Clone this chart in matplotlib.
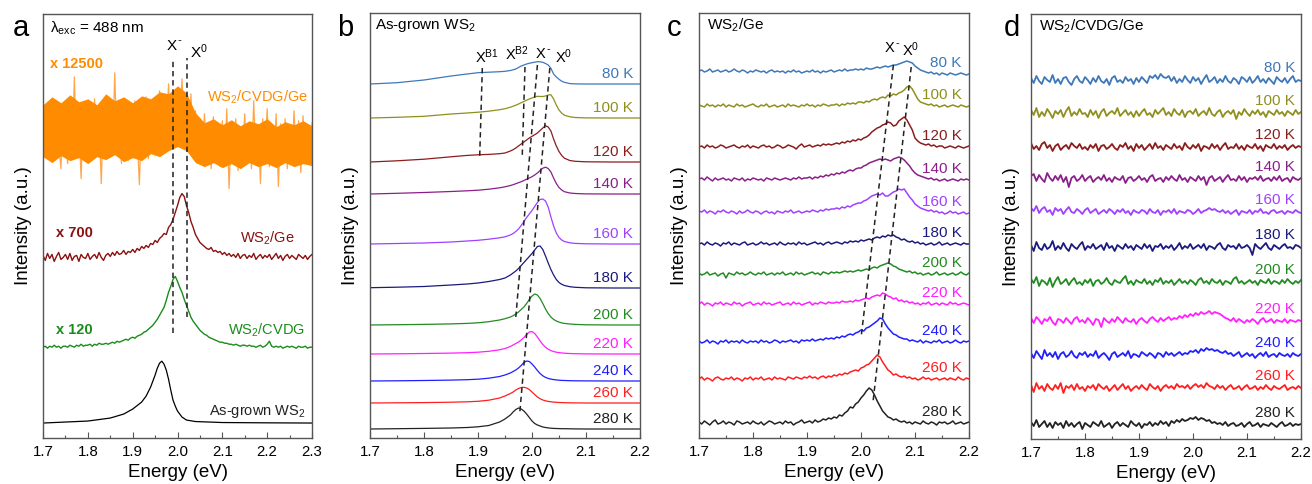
import numpy as np
import matplotlib
matplotlib.use("Agg")
import matplotlib.pyplot as plt
from matplotlib.ticker import MultipleLocator, FormatStrFormatter

plt.rcParams['font.family'] = ['Liberation Sans', 'DejaVu Sans']
plt.rcParams['mathtext.fontset'] = 'custom'
plt.rcParams['mathtext.rm'] = 'Liberation Sans'
plt.rcParams['mathtext.it'] = 'Liberation Sans:italic'
plt.rcParams['mathtext.bf'] = 'Liberation Sans:bold'
plt.rcParams['mathtext.default'] = 'regular'

# ---------------- data ----------------
temps = ['80 K', '100 K', '120 K', '140 K', '160 K', '180 K', '200 K', '220 K', '240 K', '260 K', '280 K']
temp_colors = ['#3f78b8', '#8f8f1f', '#8b1d1d', '#8a1f8a', '#a040ff', '#1a1a7f',
               '#228b22', '#ff1fff', '#1f1fff', '#ff1f1f', '#222222']

# Panel a (x from 1.70 to 2.30, step 0.005)
a_x = np.round(np.arange(1.70, 2.3001, 0.005), 3)
a_orange = [35, -5, 28, 0, 45, -10, 30, 5, -20, 40,
            10, -15, 38, -2, 72, -8, 25, -30, 42, 8,
            -12, 35, 2, 50, -5, 28, -35, 44, 10, -8,
            40, -3, 76, 0, 30, -15, 45, 5, -12, 36,
            -6, 48, 12, -36, 38, 2, 52, -10, 30, 8,
            45, -2, 58, 15, 40, 10, 65, 20, 48, 12,
            60, 18, 70, 22, 50, 5, 55, -5, 38, -10,
            30, -15, 35, -8, 25, -20, 32, -5, 20, -18,
            28, -12, 40, -40, 22, -8, 30, -22, 18, -5,
            35, -15, 25, -20, 48, -10, 22, -35, 30, -6,
            40, -18, 20, -12, 35, -38, 25, -5, 30, -20,
            22, -10, 38, -15, 28, -24, 33, -8, 20, -16, 26]
# dense core of the orange trace (ragged envelope, step 0.02)
a_orange_core_x = np.round(np.arange(1.70, 2.3001, 0.02), 2)
a_orange_core_hi = [44, 52, 46, 54, 47, 50, 44, 55, 48, 52, 46, 53, 50, 57, 55, 63,
                    56, 36, 26, 30, 24, 29, 23, 28, 25, 30, 22, 27, 24, 28, 23]
a_orange_core_lo = [-8, -14, -7, -12, -9, -15, -8, -11, -6, -13, -9, -12, -5, -8, -2, 2,
                    -2, -14, -18, -14, -19, -15, -20, -14, -18, -15, -19, -14, -18, -15, -17]
a_ge = [2, -3, 4, -1, 3, -4, 1, 5, -2, 0,
        3, -2, 4, -3, 1, 2, -4, 3, 0, -1,
        4, -2, 1, 3, -1, 5, 0, -3, 2, 4,
        1, 5, 2, 6, 3, 4, 7, 3, 6, 5,
        8, 5, 9, 7, 11, 9, 12, 10, 14, 13,
        17, 15, 19, 21, 24, 23, 30, 33, 38, 45,
        52, 60, 64, 61, 52, 45, 36, 30, 23, 19,
        15, 13, 11, 9, 8, 10, 6, 7, 5, 6,
        3, 5, 2, 4, 1, 3, 0, 4, -1, 2,
        3, -1, 2, 0, 4, -2, 1, 3, -1, 2,
        0, 3, -2, 1, 4, -1, 2, -3, 1, 3,
        -1, 2, 0, -2, 3, 1, -1, 2, -2, 1, 3]
a_cvdg = [0, 1, -1, 1, 0, 2, 0, 1, -1, 1,
          1, 0, 2, 1, 0, 2, 1, 3, 1, 2,
          2, 3, 1, 3, 2, 4, 3, 3, 4, 3,
          4, 5, 4, 6, 5, 6, 7, 8, 7, 9,
          10, 9, 11, 12, 13, 15, 16, 18, 20, 22,
          25, 28, 32, 36, 40, 47, 55, 61, 68, 71,
          66, 60, 55, 48, 42, 36, 30, 26, 23, 20,
          17, 15, 13, 12, 10, 9, 8, 7, 6, 5,
          5, 4, 4, 3, 3, 2, 3, 2, 1, 2,
          2, 1, 2, 1, 1, 0, 1, 2, 0, 1,
          3, 6, 1, 0, 1, 0, 1, -1, 0, 1,
          0, 1, 0, -1, 1, 0, 0, 1, -1, 0, 0]
a_asg_x = [1.70, 1.75, 1.80, 1.85, 1.88, 1.90, 1.92, 1.93, 1.94, 1.95, 1.955, 1.96, 1.965,
           1.97, 1.975, 1.98, 1.985, 1.99, 1.995, 2.00, 2.01, 2.02, 2.04, 2.10, 2.20, 2.30]
a_asg = [0, 1, 2, 5, 9, 14, 21, 27, 36, 48, 55, 60, 62,
         59, 53, 44, 33, 23, 17, 12, 6, 3, 1.5, 0.5, 0.2, 0]

# Panel b (smooth spectra on a shared energy grid)
b_x = [1.70, 1.75, 1.80, 1.85, 1.88, 1.90, 1.92, 1.94, 1.95, 1.96, 1.965, 1.97, 1.975,
       1.98, 1.985, 1.99, 1.995, 2.00, 2.005, 2.01, 2.015, 2.02, 2.025, 2.03, 2.035,
       2.04, 2.045, 2.05, 2.055, 2.06, 2.07, 2.08, 2.10, 2.15, 2.20]
b_80 = [0, 1.3, 4, 8, 10, 11.3, 11.8, 12.3, 12.7, 13.5, 14.2, 15, 16.5,
        18, 19, 20, 20.7, 21.3, 21.8, 22.3, 22.2, 21.7, 20.5, 19, 15.7,
        10, 7, 4.7, 2.8, 1.7, 0.4, 0.1, 0, 0, 0]
b_100 = [0, 0.7, 1.7, 4, 5, 5.8, 6.8, 8.3, 9.3, 10.8, 11.8, 12.8, 14,
         15.3, 16.5, 17.8, 19, 20, 21, 21.7, 21.5, 21.5, 22, 23, 23.3,
         19, 13, 8, 4.8, 2.8, 1.2, 0.5, 0.1, 0, 0]
b_120 = [0, 1.2, 2.8, 5.2, 6.6, 7.2, 7.6, 8.3, 9, 11, 12.3, 14, 16,
         18, 20, 22, 24, 25.7, 27.3, 29, 31.5, 34, 36.3, 35, 31,
         23, 16, 10.5, 6.5, 3.8, 1.5, 0.7, 0.2, 0, 0]
b_140 = [0, 0.7, 1.5, 2.5, 3.2, 3.8, 4.8, 6.2, 7.2, 8.5, 9.3, 10.3, 11.3,
         12.3, 13.5, 14.8, 16, 17.3, 19, 21, 23.5, 25.8, 26.8, 25.5, 22,
         16, 10.5, 6.5, 4, 2.3, 1, 0.5, 0.1, 0, 0]
b_160 = [0, 0.5, 1, 2, 3, 3.7, 4.8, 6.2, 7.2, 9, 10.5, 12.5, 15,
         18.5, 22.5, 26.5, 30, 33.5, 37.5, 41.5, 44.5, 45, 43, 37, 27,
         18, 11, 6.5, 4, 2.5, 1.2, 0.6, 0.2, 0, 0]
b_180 = [0.3, 0.8, 1.5, 3, 4, 5, 6.5, 8.5, 10, 13, 15, 17, 19.5,
         22.5, 25.5, 28.5, 31.5, 34.5, 38, 41.5, 42, 38.5, 32, 25, 18.5,
         13, 8.5, 5.5, 3.7, 2.5, 1.3, 0.7, 0.2, 0, 0]
b_200 = [0, 0.3, 0.6, 1.1, 1.6, 2.2, 3.3, 5, 6.3, 8, 9.3, 11, 13,
         15.5, 18, 21.5, 25.5, 29, 31, 30, 26.5, 21.5, 16, 11.5, 8,
         5.6, 4, 2.9, 2.1, 1.6, 1, 0.6, 0.2, 0, 0]
b_220 = [0, 0.2, 0.5, 0.9, 1.3, 1.8, 2.7, 4.2, 5.5, 7.5, 9, 10.5, 12,
         14, 16.5, 19.5, 22, 22.5, 20.5, 17, 13, 9.5, 6.8, 4.8, 3.4,
         2.5, 1.8, 1.4, 1.0, 0.8, 0.5, 0.3, 0.1, 0, 0]
b_240 = [0, 0.2, 0.5, 0.9, 1.3, 1.8, 2.8, 4.5, 6, 8, 9.5, 11, 13,
         15.5, 18.5, 20, 19.5, 17, 14, 10.5, 7.5, 5.2, 3.6, 2.6, 1.9,
         1.4, 1.1, 0.8, 0.6, 0.5, 0.3, 0.2, 0.1, 0, 0]
b_260 = [0, 0.2, 0.4, 0.8, 1.2, 1.7, 2.8, 5, 7, 9.5, 11, 13, 14.5,
         15.5, 15.7, 15, 13.5, 11, 8.5, 6, 4.3, 3, 2.2, 1.6, 1.2,
         0.9, 0.7, 0.5, 0.4, 0.3, 0.2, 0.1, 0, 0, 0]
b_280 = [0, 0.3, 0.6, 1, 1.5, 2.2, 3.5, 7, 10, 14, 17, 19.5, 21,
         20, 18, 15, 11.5, 8, 5.5, 4, 3, 2, 1.5, 1.1, 0.8,
         0.6, 0.5, 0.4, 0.3, 0.3, 0.2, 0.1, 0, 0, 0]
b_series = [b_80, b_100, b_120, b_140, b_160, b_180, b_200, b_220, b_240, b_260, b_280]

# Panel c and d (x from 1.70 to 2.20, step 0.005)
cd_x = np.round(np.arange(1.70, 2.2001, 0.005), 3)
c_80 = [3, 4, 2, 3, 5, 2, 3, 4, 2, 3, 4, 2, 3, 5, 3, 2, 4, 3, 1, 3,
        2, 4, 3, 2, 3, 1, 3, 4, 2, 3, 2, 3, 1, 3, 2, 4, 2, 3, 1, 2,
        3, 2, 4, 2, 3, 1, 3, 2, 3, 4, 2, 3, 4, 3, 5, 3, 4, 4, 5, 4,
        5, 4, 6, 5, 5, 6, 7, 6, 7, 8, 7, 8, 9, 9, 10, 11, 12, 13, 12, 11,
        8, 6, 4, 3, 2, 1, 2, 0, 1, -1, 1, 0, -1, 1, 0, -1, 0, 1, 0, -1, 0]
c_100 = [1, 0, -1, 2, 0, 1, -1, 1, 0, 2, -1, 1, 0, -1, 2, 0, 1, -1, 0, 1,
         2, 0, -1, 1, 0, 2, -1, 0, 1, -1, 0, 1, -1, 2, 0, 1, 0, -1, 1, 0,
         2, 0, 1, -1, 1, 0, 2, 1, 0, 1, 1, 2, 0, 2, 1, 3, 2, 3, 2, 4,
         4, 3, 5, 4, 6, 7, 6, 8, 9, 8, 11, 10, 12, 11, 13, 14, 16, 19, 20, 17,
         12, 7, 4, 3, 2, 1, 2, 0, 1, -1, 0, 1, -1, 0, 1, 0, -1, 1, 0, -1, 0]
c_120 = [0, 1, -1, 2, 0, 1, -1, 0, 2, 1, -1, 0, 1, 2, 0, -1, 1, 0, 2, -1,
         1, 0, -1, 1, 2, 0, 1, -1, 0, 2, 1, -1, 0, 2, 1, 0, -2, 1, 3, 0,
         1, 2, 0, 1, 2, 1, 3, 2, 3, 2, 3, 4, 3, 5, 4, 6, 5, 7, 6, 8,
         7, 9, 10, 12, 15, 17, 19, 20, 22, 23, 25, 24, 21, 22, 26, 28, 30, 27, 22, 17,
         9, 6, 4, 3, 2, 3, 1, 2, 0, 1, 1, -1, 0, 1, 0, -1, 1, 0, -1, 0, 1]
c_140 = [1, 2, 0, 3, 1, -1, 2, 0, 1, 2, 0, 1, -1, 2, 1, 0, 2, -1, 1, 0,
         2, 1, 0, 1, -1, 2, 1, 0, 2, 1, 0, 1, 2, 1, 0, 2, 1, 3, 1, 2,
         2, 3, 1, 3, 2, 4, 3, 5, 4, 6, 5, 7, 6, 8, 7, 9, 10, 9, 11, 12,
         12, 14, 15, 17, 18, 19, 20, 21, 20, 21, 20, 19, 21, 22, 23, 22, 20, 17, 14, 10,
         7, 5, 4, 3, 2, 1, 2, 0, 1, -1, 0, 1, -1, 0, 1, 0, -1, 1, 0, 1, 0]
c_160 = [2, 1, 3, 0, 2, 1, -1, 2, 1, 3, 1, 0, 2, 1, -1, 2, 0, 1, 3, 1,
         0, 2, 1, -1, 1, 2, 0, 1, -1, 2, 1, 0, 2, 1, 3, 0, 1, 2, 0, 1,
         2, 1, 3, 2, 1, 3, 2, 4, 3, 4, 4, 5, 4, 6, 5, 7, 6, 8, 9, 10,
         10, 12, 13, 15, 17, 18, 19, 18, 20, 17, 17, 19, 21, 22, 24, 23, 24, 20, 16, 13,
         9, 7, 5, 4, 3, 2, 3, 1, 2, 0, 1, -1, 0, 2, 0, 1, -1, 0, 1, -1, 0]
c_180 = [0, 1, -1, 2, 0, -1, 1, 0, -2, 1, 0, 2, -1, 1, 0, -1, 1, 2, -1, 0,
         1, -1, 0, 2, 0, 1, -1, 0, 1, -1, 2, 0, -1, 1, 0, 1, -1, 2, 0, 1,
         -1, 0, 1, 2, 0, 1, -1, 1, 2, 0, 1, 2, 1, 0, 2, 1, 3, 2, 3, 2,
         4, 3, 4, 5, 4, 6, 7, 6, 8, 7, 9, 8, 9, 7, 6, 4, 5, 3, 2, 3,
         1, 2, 0, 1, -1, 0, 1, -1, 0, 2, -1, 0, 1, -1, 0, 1, 0, -1, 1, 0, 0]
c_200 = [1, -1, 0, 2, -1, 0, 1, -2, 0, 1, -4, 1, 0, -1, 2, 0, 1, -1, 0, 2,
         0, -1, 1, 0, 2, -1, 0, 1, -1, 1, 0, 2, -1, 0, 1, -1, 2, 0, 1, -1,
         0, 1, 2, 0, 1, -1, 2, 1, 0, 2, 1, 2, 1, 2, 3, 2, 3, 2, 3, 4,
         3, 4, 5, 4, 6, 7, 6, 8, 9, 10, 11, 10, 8, 7, 5, 4, 3, 2, 3, 1,
         2, 0, 1, -1, 0, 1, -1, 0, 2, -1, 0, 1, -1, 0, 1, -1, 0, 2, 0, -1, 1]
c_220 = [0, 2, -1, 1, 0, -2, 1, 0, 2, -1, 1, 0, -1, 2, 0, 1, -2, 0, 1, 2,
         -1, 0, 1, -1, 2, 0, 1, -1, 0, 1, 2, -1, 0, 1, -1, 2, 0, 1, -1, 0,
         1, 2, -1, 1, 0, 2, 1, 0, 2, 1, 1, 2, 1, 3, 2, 2, 3, 2, 4, 3,
         4, 5, 6, 5, 7, 8, 9, 8, 11, 10, 8, 7, 5, 6, 3, 4, 2, 3, 1, 2,
         0, 1, -1, 1, 0, 2, -1, 0, 1, -1, 1, 0, -1, 2, 0, 1, -1, 0, 1, 0, -1]
c_240 = [1, -1, 0, 2, -1, 1, 0, -2, 1, 0, 2, -1, 1, 0, 1, -1, 2, 0, -1, 1,
         0, 1, -1, 2, 0, 1, -1, 0, 2, 1, -1, 1, 0, 1, 2, 0, 1, -1, 2, 1,
         2, 1, 3, 1, 2, 3, 2, 4, 3, 4, 3, 5, 4, 6, 5, 7, 8, 7, 9, 10,
         12, 11, 14, 15, 17, 19, 21, 24, 23, 18, 14, 11, 8, 7, 5, 4, 3, 3, 1, 2,
         1, 0, 2, -1, 1, 0, -1, 1, 0, 2, -1, 0, 1, -1, 0, 2, 0, -1, 1, 0, 1]
c_260 = [0, 2, -1, 1, 0, -2, 1, 2, 0, -1, 1, 0, 2, -1, 1, 0, -2, 1, 0, 2,
         -1, 1, 0, 2, -1, 0, 1, -1, 2, 0, 1, 0, -1, 2, 1, 0, 2, 1, 0, 2,
         1, 3, 1, 2, 0, 2, 3, 1, 3, 2, 4, 3, 5, 4, 6, 5, 7, 8, 9, 8,
         11, 12, 14, 15, 18, 21, 24, 22, 17, 13, 9, 7, 4, 5, 3, 2, 3, 1, 2, 0,
         1, -1, 0, 2, 0, 1, -1, 0, 1, -1, 0, 1, -1, 1, 0, -1, 2, 0, -1, 1, 0]
c_280 = [1, -1, 2, 0, -2, 1, 3, -1, 0, 2, -1, 1, 0, -2, 2, 1, -1, 0, 1, -1,
         2, 0, -1, 1, -2, 0, 2, 1, -1, 0, 1, -1, 2, 0, 1, -2, 0, 1, 3, 0,
         1, 2, 0, 3, 1, 2, 4, 3, 5, 4, 6, 5, 8, 7, 10, 12, 16, 15, 19, 21,
         25, 28, 32, 35, 33, 28, 22, 17, 12, 9, 6, 5, 3, 4, 2, 1, 2, 0, 1, -1,
         1, 0, -1, 2, 0, -1, 1, 0, -2, 1, 0, 1, -1, 0, 2, -1, 0, 1, -1, 0, 1]
c_series = [c_80, c_100, c_120, c_140, c_160, c_180, c_200, c_220, c_240, c_260, c_280]

d_80 = [2, -3, 4, -1, -4, 3, 0, -2, 5, -3, 1, -4, 2, 3, -2, -5, 1, 4, -1, -3,
        3, 0, -4, 2, -2, 4, -1, -3, 1, -5, 2, 4, -2, 0, -3, 3, -1, 1, -4, 2,
        -2, 3, 0, -3, 4, 2, 5, 1, 6, 3, 2, 4, -1, 3, -3, 1, -2, 4, 0, -3,
        3, -1, 2, -4, 1, 5, -2, 0, 3, -3, 1, -2, 4, -1, -3, 2, 0, -4, 3, 1,
        -2, 3, -3, 0, 4, -2, 1, -3, 2, -1, -4, 3, 0, -2, 2, -3, 1, 4, -2, 0, -1]
d_100 = [3, -2, 5, -4, 1, -3, 4, 0, -5, 2, -1, 3, -4, 2, 6, -3, 1, -2, 4, -1,
         0, -4, 3, -2, 2, -5, 1, 4, -3, 0, 2, -1, 5, -3, 0, 3, -2, 1, -4, 2,
         -3, 1, 4, -2, 0, -4, 3, -1, 2, 5, -2, 1, -3, 4, 0, -2, 3, -4, 1, 2,
         -1, 4, -3, 0, 2, -2, 5, -1, -3, 1, 3, -4, 0, 2, -1, 3, -6, 1, -2, 4,
         0, -3, 2, -1, 3, -2, 1, -4, 2, 0, -2, 3, -1, 1, -3, 2, 0, -2, 3, -1, 1]
d_120 = [4, -2, 1, -3, 3, 5, -1, 2, -4, 1, 3, -3, 0, 2, -2, 4, 1, -1, 3, -2,
         0, -3, 2, -1, 3, -4, 1, 2, -2, 0, 3, -1, -3, 2, 0, 4, -2, 1, -4, 3,
         -1, 2, -3, 0, 3, -2, 4, -1, 1, -3, 2, 0, -2, 3, -1, 1, -3, 4, 0, -2,
         2, -1, 3, -4, 1, 0, -2, 3, -1, 2, -3, 1, 4, -2, 0, -1, 3, -2, 1, -3,
         2, 0, -1, 3, -2, 1, -4, 2, 0, -1, 3, -2, 1, -1, 2, -3, 0, 2, -1, 1, 0]
d_140 = [3, 5, -2, 4, 0, -3, 6, 1, -2, 3, -1, 4, -3, 2, -8, 1, 3, -2, 0, 4,
         -2, 1, 3, -3, 0, 2, -1, 4, -2, 1, -3, 2, 0, -1, 3, -4, 1, 2, -2, 0,
         3, -1, 1, -3, 2, 4, -2, 0, 1, -3, 2, -1, 3, 0, -2, 4, -1, 1, -3, 2,
         0, -2, 3, -1, 2, -6, 1, 3, -2, 0, 2, -3, 1, 4, -1, 0, -2, 3, -1, 2,
         -3, 1, 0, 2, -1, 3, -2, 0, 1, -2, 2, -1, 3, -2, 0, 1, -3, 2, 0, -1, 1]
d_160 = [4, 1, 6, -1, 3, 5, 0, 2, -3, 4, 1, 3, -2, 2, 5, 0, -1, 3, 1, -2,
         2, 4, -1, 1, 3, -2, 0, 2, -1, 3, 1, -2, 2, 0, 3, -1, 1, -3, 2, 0,
         -1, 2, 1, -2, 3, 0, -1, 2, -3, 1, 0, 2, -1, 3, -2, 1, 0, -1, 2, 1,
         -2, 0, 3, -1, 1, 2, 4, 2, 3, 1, 0, 2, -1, 1, -2, 0, 2, -3, 1, 0,
         -1, 2, -2, 1, 0, 3, -1, 0, -2, 1, 2, -1, 0, 1, -2, 1, 0, -1, 2, 0, -1]
d_180 = [2, -4, 5, -1, -3, 3, -2, 0, 6, -3, 1, -2, 4, -1, -4, 3, 0, -2, 2, 5,
         -3, 1, -1, 3, -2, 0, 2, -3, 4, -1, 1, -4, 2, 0, -2, 3, -1, 1, -3, 2,
         0, -2, 3, -1, 2, -4, 1, 0, 3, -2, 1, -1, 2, -3, 0, 4, -2, 1, -1, 3,
         -2, 0, 2, -1, 3, -3, 1, 0, -2, 2, 4, -1, -3, 2, 0, 1, -2, 3, -1, 0,
         2, -1, -8, 3, 0, -2, 1, 4, -1, -3, 2, 0, -2, 1, 3, -1, 0, -2, 2, 1, -1]
d_200 = [3, -1, 5, -4, 2, 0, -3, 4, -5, 1, 5, -2, 0, 3, -3, 1, 4, -2, 0, -3,
         2, -1, 3, -4, 1, 2, -2, 0, 4, -1, -3, 2, 0, -1, 3, 6, -2, 1, -3, 2,
         0, -1, 3, -2, 1, -3, 2, 0, 4, -2, 1, -1, 2, -3, 0, 3, -1, 1, -2, 2,
         0, -3, 2, 4, -1, 1, -2, 3, 0, -1, 2, -3, 1, 0, -2, 3, 5, -1, 1, -2,
         0, 2, -1, 1, -3, 2, 0, -1, 3, -2, 1, 0, -2, 2, -1, 3, 0, -2, 1, -1, 2]
d_220 = [3, -2, 4, 1, -3, 2, 0, 4, -1, -4, 2, 1, -2, 3, 0, -3, 2, 4, -1, 1,
         -2, 3, 0, -4, 2, 1, -6, 3, 0, -2, 2, -1, 4, 1, -2, 3, 0, -1, 2, -3,
         1, 3, 0, -2, 2, 4, 1, -1, 3, 0, 2, 4, 1, 3, 2, 5, 3, 6, 4, 7,
         5, 8, 6, 9, 7, 8, 10, 7, 9, 8, 7, 5, 3, 2, 0, 3, -1, 2, 0, -2,
         1, -1, 2, 0, -3, 1, 3, -1, 0, 2, -2, 1, 0, -1, 2, -2, 1, 0, -1, 1, 0]
d_240 = [2, -3, 4, 0, -4, 5, -1, 2, -2, 3, -4, 1, 3, -2, 0, 4, -1, -3, 2, 0,
         3, -2, 1, -1, 4, -3, 0, 2, -1, -5, 1, 3, -2, 0, 2, -1, 4, -3, 1, 0,
         -2, 3, 1, -1, 2, 0, -3, 2, 1, -2, 3, 0, 2, -1, 1, 3, 0, 2, 1, 4,
         3, 5, 2, 6, 4, 7, 5, 6, 4, 5, 3, 2, 4, 1, 2, -1, 1, 3, -2, 0,
         2, -1, 1, -3, 0, 2, -1, 3, -2, 0, 1, -2, 2, 0, -1, 1, -2, 2, 0, -1, 1]
d_260 = [3, -4, 5, -1, 2, -3, 4, 0, -2, 3, -1, 5, -5, 2, 0, 3, -2, 4, -1, 1,
         -3, 2, 0, 3, -2, 4, 1, -1, 2, -3, 0, 3, -2, 1, 4, -1, 2, -3, 0, 2,
         -1, 3, 0, -2, 4, 1, -1, 2, -3, 1, 3, 0, 2, -1, 4, 1, 2, 0, 3, -1,
         2, 4, 1, 3, 0, 5, 2, 1, -1, 3, 0, 2, -2, 1, 3, -1, 0, 2, -2, 1,
         3, -1, 0, 2, -2, 1, -1, 3, 0, -2, 2, 0, -1, 1, 3, -2, 0, 1, -1, 2, 0]
d_280 = [3, -1, 5, -2, 1, 4, -2, 2, -3, 3, 0, 2, -3, 4, -1, 2, -2, 1, 3, -4,
         2, 0, -2, 3, 1, -1, 4, -2, 0, 2, -3, 1, 3, -1, 2, 0, -2, 4, 1, -1,
         2, -3, 1, 0, 3, -1, 2, 0, 4, 1, 3, -1, 4, 2, 5, 3, 6, 4, 5, 7,
         6, 8, 5, 7, 6, 4, 5, 2, 3, 1, 2, 0, 3, -1, 1, 2, -1, 0, 2, -2,
         1, 3, -1, 0, 2, -2, 1, 0, -1, 2, 0, -2, 1, 3, -1, 0, 2, -1, 1, 0, 1]
d_series = [d_80, d_100, d_120, d_140, d_160, d_180, d_200, d_220, d_240, d_260, d_280]

# ---------------- layout / styles ----------------
a_offsets = {'asg': 15, 'cvdg': 91, 'ge': 181, 'orange': 290}
b_offsets = [354, 320, 276, 244, 194, 150, 113, 84, 57, 35, 9]
c_offsets = [364, 332, 291, 258, 225, 194, 164, 134, 96, 59, 15]
d_offsets = [359, 326, 292, 260, 227, 192, 157, 118, 84, 51, 14]

fig = plt.figure(figsize=(13.12, 4.84), dpi=100)
W, H = 1312, 484
def add_axes(left, right, top=13, bottom=438):
    return fig.add_axes([left / W, (H - bottom) / H, (right - left) / W, (bottom - top) / H])

axa = add_axes(43, 312, 14, 438)
axb = add_axes(370, 640)
axc = add_axes(699, 969)
axd = add_axes(1031, 1301, 14, 439)

spine_col = '#555555'
for ax, xmax in [(axa, 2.3), (axb, 2.2), (axc, 2.2), (axd, 2.2)]:
    ax.set_xlim(1.7, xmax)
    ax.set_ylim(0, 425)
    ax.set_yticks([])
    ax.xaxis.set_major_locator(MultipleLocator(0.1))
    ax.xaxis.set_minor_locator(MultipleLocator(0.05))
    ax.tick_params(axis='x', which='major', direction='in', length=4, width=0.8,
                   labelsize=10.8, pad=5, color=spine_col)
    ax.tick_params(axis='x', which='minor', direction='in', length=2.5, width=0.8, color=spine_col)
    ax.xaxis.set_major_formatter(FormatStrFormatter('%.1f'))
    for s in ax.spines.values():
        s.set_color(spine_col)
        s.set_linewidth(1.0)
    ax.set_xlabel('Energy (eV)', fontsize=13.5)
    ax.xaxis.set_label_coords(0.5, -0.062)
    ax.set_ylabel('Intensity (a.u.)', fontsize=13.5)
    ax.yaxis.set_label_coords(-0.04, 0.5)

dash = dict(ls=(0, (3.5, 2.5)), color='#222222', lw=1.1)

def xminus(ax, x, y, fs):
    ax.text(x, y, 'X', ha='center', va='center', fontsize=fs, zorder=5)
    ax.annotate('-', xy=(x, y), xytext=(fs * 0.55, fs * 0.35), textcoords='offset points',
                ha='center', va='center', fontsize=fs * 0.75, zorder=5)

# ---- panel a ----
axa.plot(a_asg_x, np.array(a_asg) + a_offsets['asg'], color='black', lw=0.9)
axa.plot(a_x, np.array(a_cvdg) + a_offsets['cvdg'], color='#1a8c1a', lw=1.0)
axa.plot(a_x, np.array(a_ge) + a_offsets['ge'], color='#8b1010', lw=1.0)
axa.plot(a_x, np.array(a_orange) + a_offsets['orange'], color='#ffa64d', lw=0.9, zorder=2)
axa.fill_between(a_orange_core_x, np.array(a_orange_core_lo) + a_offsets['orange'],
                 np.array(a_orange_core_hi) + a_offsets['orange'], color='#ff8c00', lw=0, zorder=2.5)
axa.plot([1.99, 1.99], [105, 381], zorder=3, **dash)
axa.plot([2.022, 2.022], [121, 381], zorder=3, **dash)
xminus(axa, 1.986, 393, 11)
axa.text(2.048, 387, 'X$^{0}$', ha='center', va='center', fontsize=11)
axa.text(1.715, 411, r'$\lambda_{exc}$ = 488 nm', ha='left', va='center', fontsize=11)
axa.text(1.715, 375, 'x 12500', color='#ff8c00', fontweight='bold', ha='left', va='center', fontsize=10.5)
axa.text(2.292, 342, 'WS$_2$/CVDG/Ge', color='#ff8c00', ha='right', va='center', fontsize=10.5, zorder=4)
axa.text(1.728, 205, 'x 700', color='#8b1010', fontweight='bold', ha='left', va='center', fontsize=10.5)
axa.text(2.262, 200, 'WS$_2$/Ge', color='#8b1010', ha='right', va='center', fontsize=10.5)
axa.text(1.728, 108, 'x 120', color='#1a8c1a', fontweight='bold', ha='left', va='center', fontsize=10.5)
axa.text(2.285, 108, 'WS$_2$/CVDG', color='#1a8c1a', ha='right', va='center', fontsize=10.5)
axa.text(2.285, 27, 'As-grown WS$_2$', color='#222222', ha='right', va='center', fontsize=10.5)

# ---- panel b ----
for vals, off, col, lab in zip(b_series, b_offsets, temp_colors, temps):
    axb.plot(b_x, np.array(vals) + off, color=col, lw=0.9)
    axb.text(2.187, off + 10, lab, color=col, ha='right', va='center', fontsize=11)
axb.plot([1.908, 1.903], [370, 279], **dash)
axb.plot([1.987, 1.982], [371, 283], **dash)
axb.plot([2.010, 1.970], [373, 121], **dash)
axb.plot([2.033, 1.977], [370, 23], **dash)
axb.text(1.917, 381, 'X$^{B1}$', ha='center', va='center', fontsize=10.5)
axb.text(1.972, 384, 'X$^{B2}$', ha='center', va='center', fontsize=10.5)
xminus(axb, 2.016, 384, 10.5)
axb.text(2.058, 381, 'X$^{0}$', ha='center', va='center', fontsize=10.5)
axb.text(1.71, 413, 'As-grown WS$_2$', ha='left', va='center', fontsize=11)

# ---- panel c ----
for vals, off, col, lab in zip(c_series, c_offsets, temp_colors, temps):
    axc.plot(cd_x, np.array(vals) + off, color=col, lw=1.1)
    axc.text(2.186, off + 11, lab, color=col, ha='right', va='center', fontsize=11)
axc.plot([2.060, 2.000], [373, 100], **dash)
axc.plot([2.093, 2.022], [371, 35], **dash)
xminus(axc, 2.052, 390, 10.5)
axc.text(2.092, 388, 'X$^{0}$', ha='center', va='center', fontsize=10.5)
axc.text(1.715, 413, 'WS$_2$/Ge', ha='left', va='center', fontsize=11)

# ---- panel d ----
for vals, off, col, lab in zip(d_series, d_offsets, temp_colors, temps):
    axd.plot(cd_x, np.array(vals) + off, color=col, lw=1.3)
    axd.text(2.189, off + 12, lab, color=col, ha='right', va='center', fontsize=11)
axd.text(1.715, 413, 'WS$_2$/CVDG/Ge', ha='left', va='center', fontsize=11)

# panel letters
for x, lab in [(13, 'a'), (337, 'b'), (667, 'c'), (1004, 'd')]:
    fig.text(x / W, 1 - 28 / H, lab, fontsize=21, ha='left', va='center')

fig.savefig('out.png', dpi=100)
